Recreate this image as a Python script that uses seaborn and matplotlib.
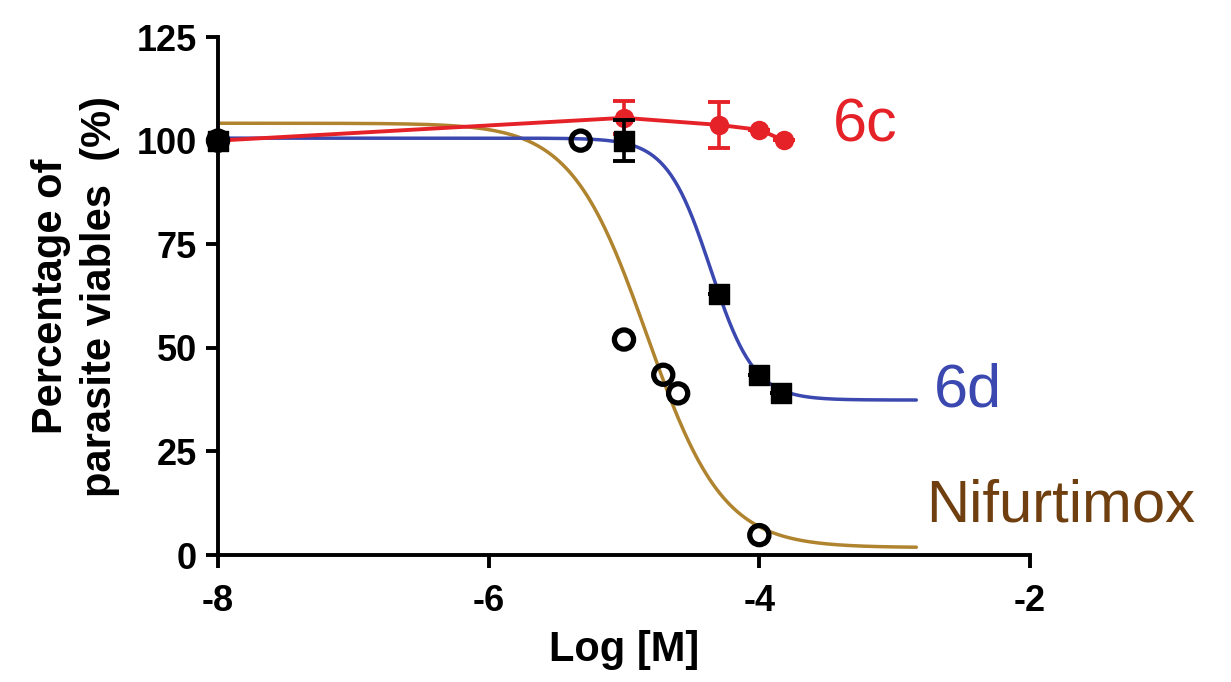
import numpy as np
import pandas as pd
import matplotlib
matplotlib.use("Agg")
import matplotlib.pyplot as plt
import seaborn as sns

# --- values ---
log_6c = [-8.0, -5.0, -4.3, -4.0, -3.82]
via_6c = [100.0, 105.5, 103.8, 102.6, 100.1]
err_6c = [0.0, 4.0, 5.6, 0.0, 0.0]

log_6d = [-8.0, -5.0, -4.3, -4.0, -3.84]
via_6d = [100.0, 100.0, 63.0, 43.5, 39.0]
err_6d = [0.0, 5.0, 0.0, 0.0, 0.0]

log_nif = [-8.0, -5.32, -5.0, -4.71, -4.6, -4.0]
via_nif = [100.0, 100.0, 52.0, 43.5, 39.0, 4.8]

# sigmoid fits as drawn: bottom, top, logEC50, hill slope
fit_6d = [37.4, 100.6, -4.36, 2.68]
fit_nif = [1.8, 104.2, -4.83, 1.55]
fit_range = [-8.0, -2.84]

x_ticks = [-8, -6, -4, -2]
y_ticks = [0, 25, 50, 75, 100, 125]

RED = "#e62229"
BLUE = "#3a48b0"
BROWN = "#b0842f"
BROWN_TXT = "#6f3f10"

sns.set_style("ticks")
plt.rcParams.update({
    "font.family": ["Liberation Sans", "DejaVu Sans"],
    "text.color": "black",
    "axes.labelcolor": "black",
    "axes.edgecolor": "black",
    "xtick.color": "black",
    "ytick.color": "black",
})


def four_pl(x, p):
    bottom, top, ec50, hill = p
    return bottom + (top - bottom) / (1 + 10 ** (hill * (x - ec50)))


def main():
    fig = plt.figure(figsize=(12.31, 6.82), dpi=100)
    ax = fig.add_axes([0.1771, 0.1862, 0.6596, 0.7595])

    xs = np.linspace(fit_range[0], fit_range[1], 400)
    curves = pd.DataFrame({
        "x": np.concatenate([xs, xs]),
        "y": np.concatenate([four_pl(xs, fit_nif), four_pl(xs, fit_6d)]),
        "drug": ["Nifurtimox"] * len(xs) + ["6d"] * len(xs),
    })
    sns.lineplot(data=curves, x="x", y="y", hue="drug",
                 palette={"Nifurtimox": BROWN, "6d": BLUE},
                 linewidth=2.5, legend=False, ax=ax, zorder=2)
    for line in ax.lines:
        line.set_clip_on(False)

    # 6c: points joined by straight segments
    df6c = pd.DataFrame({"x": log_6c, "y": via_6c})
    sns.lineplot(data=df6c, x="x", y="y", color=RED, linewidth=2.8,
                 marker="o", markersize=14, markeredgewidth=0,
                 legend=False, ax=ax, zorder=3, clip_on=False)
    ax.errorbar(log_6c, via_6c, yerr=err_6c, fmt="none", ecolor=RED,
                elinewidth=2.6, capsize=8, capthick=2.8, zorder=3, clip_on=False)

    # 6d squares
    ax.errorbar(log_6d, via_6d, yerr=err_6d, fmt="none", ecolor="black",
                elinewidth=2.6, capsize=8, capthick=2.8, zorder=4, clip_on=False)
    sns.scatterplot(x=log_6d, y=via_6d, marker="s", s=200, color="black",
                    edgecolor="black", linewidth=1, ax=ax, zorder=4, clip_on=False)

    # Nifurtimox open circles
    sns.scatterplot(x=log_nif, y=via_nif, marker="o", s=190,
                    facecolor="none", edgecolor="black", linewidth=3.8,
                    ax=ax, zorder=5, clip_on=False)

    ax.text(-3.46, 103.5, "6c", color=RED, fontsize=44, va="center", ha="left")
    ax.text(-2.71, 39.5, "6d", color=BLUE, fontsize=44, va="center", ha="left")
    ax.text(-2.77, 11.8, "Nifurtimox", color=BROWN_TXT, fontsize=43,
            va="center", ha="left", clip_on=False)

    ax.set_xlim(-8, -2)
    ax.set_ylim(0, 125)
    ax.set_xticks(x_ticks)
    ax.set_yticks(y_ticks)
    ax.set_xticklabels([str(t) for t in x_ticks])
    sns.despine(ax=ax)
    for side in ("left", "bottom"):
        ax.spines[side].set_linewidth(2.8)
    ax.tick_params(axis="both", length=9, width=2.8, labelsize=26)
    ax.tick_params(axis="x", pad=12)
    ax.tick_params(axis="y", pad=6)
    for lab in ax.get_xticklabels() + ax.get_yticklabels():
        lab.set_fontweight("bold")

    ax.set_xlabel("Log [M]", fontsize=30, fontweight="bold", labelpad=8)
    ax.set_ylabel("Percentage of\nparasite viables  (%)", fontsize=30,
                  fontweight="bold", labelpad=12, linespacing=1.3)

    fig.savefig("out.png", dpi=100)


if __name__ == "__main__":
    main()
